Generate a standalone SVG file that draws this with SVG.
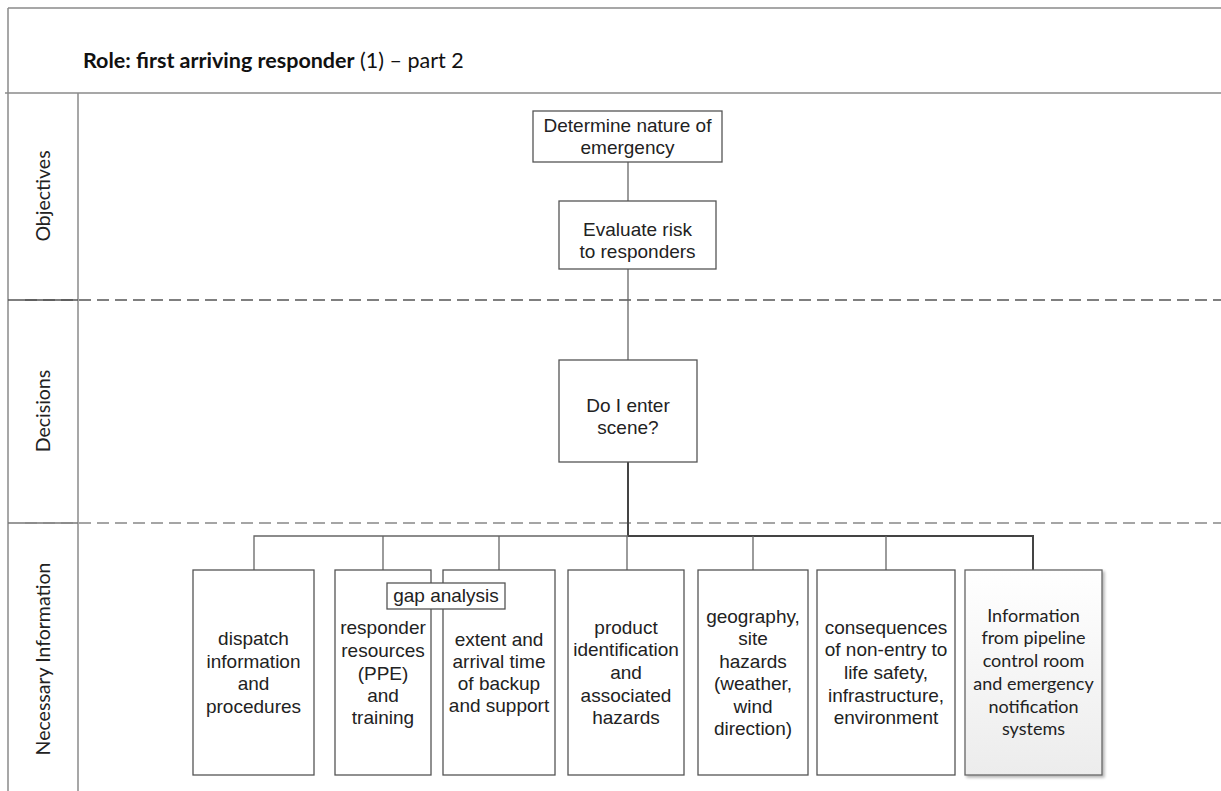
<svg xmlns="http://www.w3.org/2000/svg" width="1221" height="791" viewBox="0 0 1221 791">
<defs>
<linearGradient id="g7" x1="0" y1="0" x2="0" y2="1">
<stop offset="0" stop-color="#ffffff"/>
<stop offset="1" stop-color="#ececec"/>
</linearGradient>
<filter id="sh" x="-10%" y="-10%" width="130%" height="130%">
<feGaussianBlur in="SourceAlpha" stdDeviation="1.5"/>
<feOffset dx="2" dy="2" result="b"/>
<feComponentTransfer><feFuncA type="linear" slope="0.3"/></feComponentTransfer>
<feMerge><feMergeNode/><feMergeNode in="SourceGraphic"/></feMerge>
</filter>
</defs>
<style>
.frame{stroke:#8a8a8a;stroke-width:1.5;fill:none}
.dash1{stroke:#555;stroke-width:1.3;stroke-dasharray:12 6;fill:none}
.dash2{stroke:#888;stroke-width:1.3;stroke-dasharray:12 6;fill:none}
.box{fill:#fff;stroke:#555;stroke-width:1.3}
.box7{fill:url(#g7);stroke:#666;stroke-width:1.3}
.t{font-family:"Liberation Sans",Arial,sans-serif;font-size:19px;fill:#222;text-anchor:middle}
.c{font-family:Lato,"Open Sans",sans-serif;font-size:18px;fill:#222;text-anchor:middle}
.lane{font-family:Lato,"Open Sans",sans-serif;font-size:19.5px;fill:#222;text-anchor:middle}
.con{stroke:#666;stroke-width:1.3;fill:none}
.conb{stroke:#444;stroke-width:2;fill:none}
</style>
<rect x="0" y="0" width="1221" height="791" fill="#fff"/>
<g id="frame">
<line class="frame" x1="8" y1="8" x2="1221" y2="8"/>
<line class="frame" x1="8" y1="8" x2="8" y2="791"/>
<line class="frame" x1="5" y1="93" x2="1221" y2="93"/>
<line class="frame" x1="78" y1="93" x2="78" y2="791"/>
<line stroke="#555" stroke-width="1.3" x1="8" y1="300" x2="78" y2="300"/>
<line stroke="#777" stroke-width="1.3" x1="8" y1="523" x2="78" y2="523"/>
<line class="dash1" x1="25" y1="300" x2="1221" y2="300"/>
<line class="dash2" x1="25" y1="523" x2="1221" y2="523"/>
<text x="83" y="68" font-family="Lato,'Open Sans',sans-serif" font-size="21.5" fill="#111"><tspan font-weight="bold">Role: first arriving responder</tspan> (1) – part 2</text>
<text class="lane" transform="translate(50,196) rotate(-90)">Objectives</text>
<text class="lane" transform="translate(50,411) rotate(-90)">Decisions</text>
<text class="lane" transform="translate(50,659) rotate(-90)">Necessary Information</text>
</g>
<g id="connectors">
<line class="con" x1="628" y1="162" x2="628" y2="201"/>
<line class="con" x1="628" y1="269" x2="628" y2="360"/>
<line class="conb" x1="628" y1="462" x2="628" y2="536"/>
<polyline class="con" points="254,570 254,536 628,536"/>
<line class="con" x1="383" y1="536" x2="383" y2="570"/>
<line class="con" x1="499" y1="536" x2="499" y2="570"/>
<line class="con" x1="627" y1="536" x2="627" y2="570"/>
<polyline class="conb" points="628,536 1033,536 1033,570"/>
<line class="con" x1="753" y1="536" x2="753" y2="570"/>
<line class="con" x1="886" y1="536" x2="886" y2="570"/>
</g>
<g id="n-determine">
<rect class="box" x="533" y="111" width="189" height="51"/>
<text class="t" x="627.5" y="132">Determine nature of</text>
<text class="t" x="627.5" y="154">emergency</text>
</g>
<g id="n-evaluate">
<rect class="box" x="559" y="201" width="157" height="68"/>
<text class="t" x="637.5" y="236">Evaluate risk</text>
<text class="t" x="637.5" y="258">to responders</text>
</g>
<g id="n-enter">
<rect class="box" x="559" y="360" width="138" height="102"/>
<text class="t" x="628" y="412">Do I enter</text>
<text class="t" x="628" y="434">scene?</text>
</g>
<g id="n-dispatch">
<rect class="box" x="193" y="570" width="121" height="205"/>
<text class="t" x="253.5" y="645">dispatch</text>
<text class="t" x="253.5" y="668">information</text>
<text class="t" x="253.5" y="690">and</text>
<text class="t" x="253.5" y="713">procedures</text>
</g>
<g id="n-resources">
<rect class="box" x="335" y="570" width="96" height="205"/>
<text class="t" x="383" y="634">responder</text>
<text class="t" x="383" y="657">resources</text>
<text class="t" x="383" y="680">(PPE)</text>
<text class="t" x="383" y="702">and</text>
<text class="t" x="383" y="724">training</text>
</g>
<g id="n-backup">
<rect class="box" x="443" y="570" width="112" height="205"/>
<text class="t" x="499" y="646">extent and</text>
<text class="t" x="499" y="668">arrival time</text>
<text class="t" x="499" y="690">of backup</text>
<text class="t" x="499" y="712">and support</text>
</g>
<g id="n-gap">
<rect class="box" x="387" y="583" width="118" height="26"/>
<text class="t" x="446" y="602">gap analysis</text>
</g>
<g id="n-product">
<rect class="box" x="568" y="570" width="116" height="205"/>
<text class="t" x="626" y="634">product</text>
<text class="t" x="626" y="656">identification</text>
<text class="t" x="626" y="679">and</text>
<text class="t" x="626" y="702">associated</text>
<text class="t" x="626" y="724">hazards</text>
</g>
<g id="n-geography">
<rect class="box" x="698" y="570" width="110" height="205"/>
<text class="t" x="753" y="623">geography,</text>
<text class="t" x="753" y="645">site</text>
<text class="t" x="753" y="668">hazards</text>
<text class="t" x="753" y="690">(weather,</text>
<text class="t" x="753" y="713">wind</text>
<text class="t" x="753" y="735">direction)</text>
</g>
<g id="n-consequences">
<rect class="box" x="817" y="570" width="138" height="205"/>
<text class="t" x="886" y="634">consequences</text>
<text class="t" x="886" y="656">of non-entry to</text>
<text class="t" x="886" y="679">life safety,</text>
<text class="t" x="886" y="702">infrastructure,</text>
<text class="t" x="886" y="724">environment</text>
</g>
<g id="n-pipeline">
<rect class="box7" x="965" y="570" width="137" height="205" filter="url(#sh)"/>
<text class="c" x="1033.5" y="622">Information</text>
<text class="c" x="1033.5" y="644">from pipeline</text>
<text class="c" x="1033.5" y="667">control room</text>
<text class="c" x="1033.5" y="690">and emergency</text>
<text class="c" x="1033.5" y="713">notification</text>
<text class="c" x="1033.5" y="735">systems</text>
</g>
</svg>
